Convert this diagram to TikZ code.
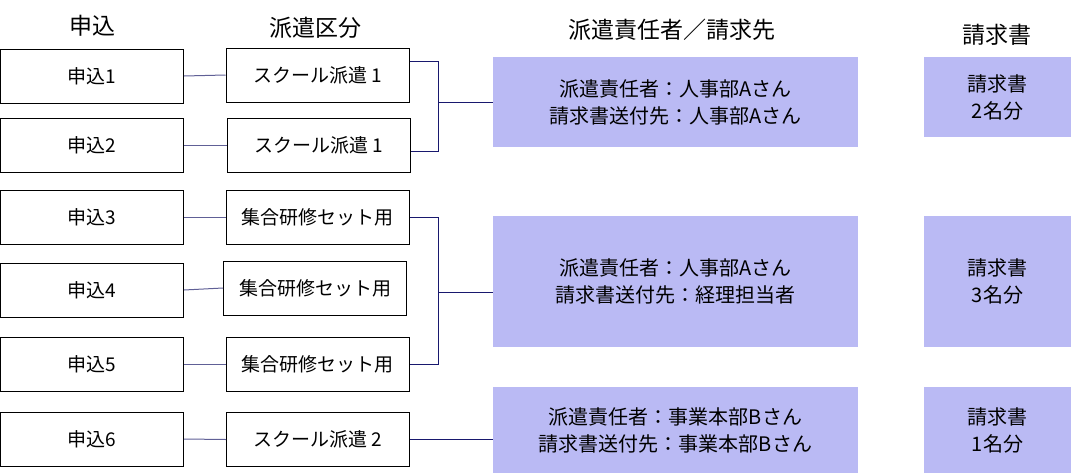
\documentclass[tikz,border=0pt]{standalone}
\usepackage{fontspec}
\setmainfont{Noto Sans CJK JP}
\usetikzlibrary{calc}

\definecolor{boxblue}{RGB}{186,186,244}
\definecolor{linkgray}{RGB}{96,96,150}
\definecolor{linknavy}{RGB}{24,24,110}

\tikzset{
    box/.style={draw, line width=1pt, minimum width=183pt, minimum height=54pt,
        inner sep=0pt, font=\fontsize{19}{22}\selectfont},
    infobox/.style={fill=boxblue, minimum width=365pt, inner sep=0pt, align=center,
        font=\fontsize{20}{27}\selectfont},
    billbox/.style={fill=boxblue, minimum width=147pt, inner sep=0pt, align=center,
        font=\fontsize{20}{27}\selectfont},
    head/.style={font=\fontsize{23}{26}\selectfont},
    link/.style={draw=linkgray, line width=1pt},
    bracket/.style={draw=linknavy, line width=1pt}
}

\begin{document}
\begin{tikzpicture}[x=1pt, y=-1pt]
        \useasboundingbox (0,0) rectangle (1071,474);

        % headers
        \node[head] (h1) at (92,26) {申込};
        \node[head] (h2) at (315,28) {派遣区分};
        \node[head] (h3) at (672,30) {派遣責任者／請求先};
        \node[head] (h4) at (997,35) {請求書};

        % applications
        \foreach \i/\y in {1/76,2/145,3/217,4/290,5/364,6/439}{
            \node[box] (a\i) at (92,\y) {申込\i};
        }

        % dispatch types
        \node[box] (s1) at (317.5,75) {スクール派遣 1};
        \node[box] (s2) at (318.5,145) {スクール派遣 1};
        \node[box] (s3) at (317.5,217) {集合研修セット用};
        \node[box] (s4) at (315,288) {集合研修セット用};
        \node[box] (s5) at (317.5,364) {集合研修セット用};
        \node[box] (s6) at (318,439.5) {スクール派遣 2};

        % contacts
        \node[infobox, minimum height=90pt] (r1) at (675.5,102)
            {派遣責任者：人事部Aさん\\請求書送付先：人事部Aさん};
        \node[infobox, minimum height=131pt] (r2) at (675.5,281.5)
            {派遣責任者：人事部Aさん\\請求書送付先：経理担当者};
        \node[infobox, minimum height=86pt] (r3) at (675.5,430)
            {派遣責任者：事業本部Bさん\\請求書送付先：事業本部Bさん};

        % bills
        \node[billbox, minimum height=80pt] (b1) at (997.5,97) {請求書\\2名分};
        \node[billbox, minimum height=131pt] (b2) at (997.5,281.5) {請求書\\3名分};
        \node[billbox, minimum height=86pt] (b3) at (997.5,430) {請求書\\1名分};

        % links
        \foreach \i in {1,...,6}{
            \draw[link] (a\i.east) -- (s\i.west);
        }

        \draw[bracket] ([yshift=14pt]s1.east) -- ++(29,0) coordinate (k1) |- ([yshift=-6pt]s2.east);
        \draw[bracket] (k1 |- r1.west) -- (r1.west);

        \draw[bracket] (s3.east) -- ++(29,0) coordinate (k2) |- (s5.east);
        \draw[bracket] (k2 |- 0,292) coordinate (m2) -- (m2 -| r2.west);

        \draw[bracket] (s6.east) -- (s6.east -| r3.west);

    \end{tikzpicture}
\end{document}
